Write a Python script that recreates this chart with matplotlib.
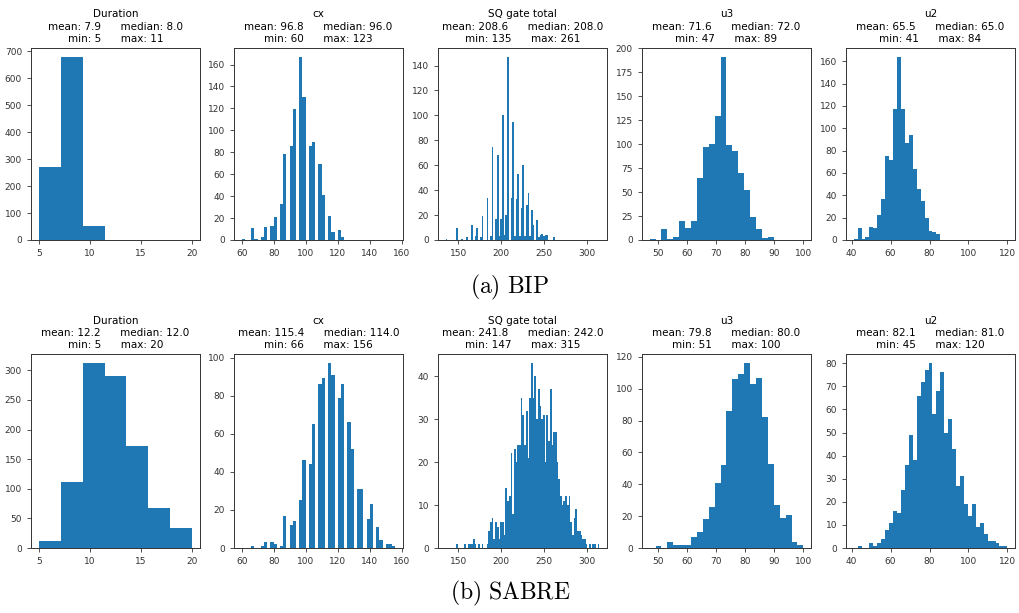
import numpy as np
import matplotlib
matplotlib.use("Agg")
import matplotlib.pyplot as plt

plt.rcParams['mathtext.fontset'] = 'cm'

# --- Data --- #
names = ["Duration", "cx", "SQ gate total", "u3", "u2"]

# bin range and bin count per column (shared by both rows)
bin_lo = [5, 60, 135, 47, 41]
bin_hi = [20, 156, 315, 100, 120]
bin_n = [7, 48, 90, 26, 39]

# Duration, counts per bin
dur_bip = [270, 680, 52, 0, 0, 0, 0]
dur_sabre = [12, 112, 312, 291, 172, 68, 33]

# cx comes in multiples of 3
cx_vals = [60, 63, 66, 69, 72, 75, 78, 81, 84, 87, 90, 93, 96, 99, 102, 105, 108,
           111, 114, 117, 120, 123, 126, 129, 132, 135, 138, 141, 144, 147, 150, 153, 156]
cx_bip = [1, 0, 11, 1, 3, 12, 13, 21, 33, 78, 86, 119, 167, 130, 86, 89, 69,
          41, 22, 7, 9, 3, 0, 0, 0, 0, 0, 0, 0, 0, 0, 0, 0]
cx_sabre = [0, 0, 1, 0, 1, 3, 3, 2, 1, 17, 12, 14, 25, 46, 44, 65, 86,
            89, 97, 91, 79, 86, 66, 52, 31, 31, 15, 23, 11, 4, 2, 2, 1]

# SQ gate total, counts per bin
sq_bip = [1, 0, 0, 0, 0, 0, 10, 0, 0, 1,
          0, 0, 2, 0, 0, 12, 0, 3, 10, 0,
          2, 19, 0, 0, 34, 0, 3, 75, 0, 17,
          68, 3, 17, 100, 4, 20, 147, 0, 34, 95,
          3, 33, 53, 3, 26, 60, 3, 28, 38, 3,
          24, 12, 0, 16, 2, 4, 5, 3, 4, 4,
          0, 0, 0, 2, 0, 0, 0, 0, 0, 0,
          0, 0, 0, 0, 0, 0, 0, 0, 0, 0,
          0, 0, 0, 0, 0, 0, 0, 0, 0, 0]
sq_sabre = [0, 0, 0, 0, 0, 0, 1, 0, 0, 0,
            0, 1, 0, 1, 1, 1, 2, 1, 0, 1,
            0, 1, 0, 0, 1, 4, 6, 7, 2, 6,
            5, 2, 6, 6, 3, 14, 11, 12, 22, 8,
            23, 20, 24, 24, 35, 31, 24, 32, 21, 35,
            43, 35, 40, 30, 37, 33, 30, 31, 20, 31,
            25, 37, 24, 27, 27, 20, 16, 12, 10, 11,
            12, 10, 12, 6, 3, 7, 9, 4, 4, 3,
            2, 2, 1, 0, 1, 0, 1, 1, 0, 1]

# u3, counts per bin
u3_bip = [1, 0, 11, 1, 3, 20, 13, 20, 65, 97, 100, 129, 191, 99, 93, 70, 52,
          24, 11, 2, 3, 0, 0, 0, 0, 0]
u3_sabre = [0, 1, 0, 4, 2, 2, 2, 7, 10, 18, 26, 41, 52, 86, 106, 109, 116,
            103, 107, 82, 53, 27, 19, 21, 4, 2]

# u2, counts per bin
u2_bip = [1, 11, 1, 3, 12, 11, 22, 37, 75, 72, 117, 164, 117, 87, 94, 64, 46,
          35, 20, 8, 7, 5, 0, 0, 0, 0, 0, 0, 0, 0, 0, 0, 0, 0, 0, 0, 0, 0, 0]
u2_sabre = [0, 1, 0, 0, 2, 1, 2, 4, 8, 11, 16, 15, 25, 36, 49, 38, 66, 72, 77,
            80, 58, 68, 76, 50, 56, 43, 27, 31, 19, 14, 19, 9, 11, 6, 3, 3, 2, 1, 1]

# stats in the titles: mean, median, min, max
stats_bip = [(7.9, 8.0, 5, 11), (96.8, 96.0, 60, 123), (208.6, 208.0, 135, 261),
             (71.6, 72.0, 47, 89), (65.5, 65.0, 41, 84)]
stats_sabre = [(12.2, 12.0, 5, 20), (115.4, 114.0, 66, 156), (241.8, 242.0, 147, 315),
               (79.8, 80.0, 51, 100), (82.1, 81.0, 45, 120)]

rows = [
    ("(a)\\ BIP", [dur_bip, cx_bip, sq_bip, u3_bip, u2_bip], stats_bip),
    ("(b)\\ SABRE", [dur_sabre, cx_sabre, sq_sabre, u3_sabre, u2_sabre], stats_sabre),
]


def draw_panel(ax, col, counts, st):
    edges = np.linspace(bin_lo[col], bin_hi[col], bin_n[col] + 1)
    if names[col] == "cx":
        ax.hist(cx_vals, bins=edges, weights=counts, color="#1f77b4")
    else:
        ax.hist(edges[:-1], bins=edges, weights=counts, color="#1f77b4")
    mean, med, lo, hi = st
    title = (f"{names[col]}\n"
             f"mean: {mean:.1f}      median: {med:.1f}\n"
             f"min: {lo}      max: {hi}")
    ax.set_title(title, fontsize=7.5, linespacing=1.3, pad=4)
    ax.tick_params(labelsize=6.5, length=3, width=0.6, colors="#333333")
    for s in ax.spines.values():
        s.set_linewidth(0.7)
        s.set_color("#333333")


fig = plt.figure(figsize=(10.2, 6.13), dpi=100)

lefts = [0.0304, 0.2294, 0.4294, 0.6294, 0.8294]
width = 0.1657
row_boxes = [(0.6085, 0.3137), (0.106, 0.3165)]
caption_y = [0.508, 0.008]

for r, (caption, series, stats) in enumerate(rows):
    bottom, height = row_boxes[r]
    for c in range(5):
        ax = fig.add_axes([lefts[c], bottom, width, height])
        draw_panel(ax, c, series[c], stats[c])
    fig.text(0.5, caption_y[r], "$\\mathrm{" + caption + "}$", ha="center",
             va="bottom", fontsize=17)

fig.savefig("out.png", dpi=100)
